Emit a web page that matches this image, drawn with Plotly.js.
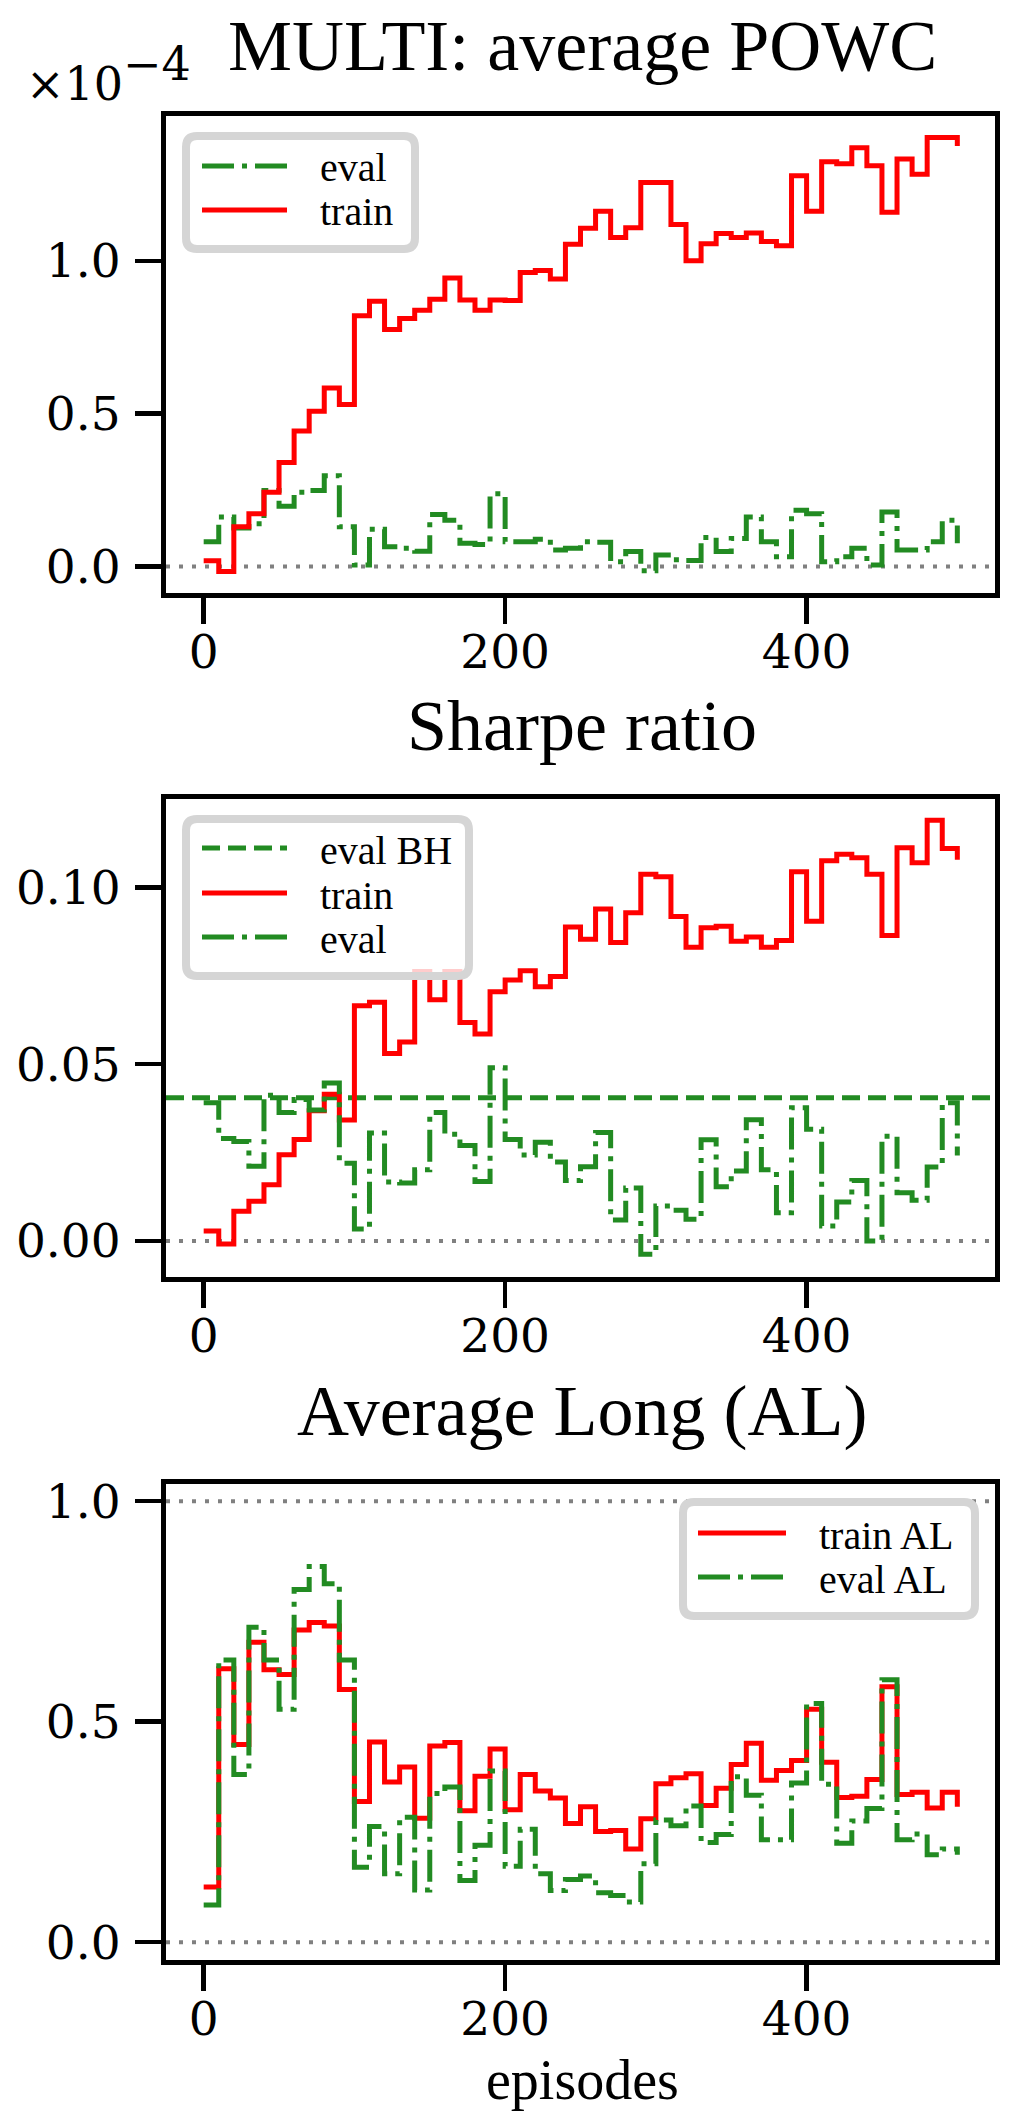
<!DOCTYPE html>
<html>
<head>
<meta charset="utf-8">
<script src="https://cdn.plot.ly/plotly-3.0.1.min.js"></script>
<style>
  html, body { margin: 0; padding: 0; background: #fff; }
  #chart { width: 1020px; height: 2118px; }
</style>
</head>
<body>
<div id="chart"></div>
<script>
// episodes (x of every step)
var episodes = [0, 10, 20, 30, 40, 50, 60, 70, 80, 90, 100, 110, 120, 130, 140, 150, 160, 170, 180, 190,
	200, 210, 220, 230, 240, 250, 260, 270, 280, 290, 300, 310, 320, 330, 340, 350, 360, 370, 380, 390,
	400, 410, 420, 430, 440, 450, 460, 470, 480, 490, 500];

// MULTI: average POWC, in units of 1e-4
var powc_train = [0.019, -0.016, 0.13, 0.173, 0.243, 0.34, 0.443, 0.508, 0.584, 0.53,
	0.82, 0.868, 0.775, 0.811, 0.838, 0.874, 0.944, 0.872, 0.838, 0.872,
	0.870, 0.962, 0.968, 0.94, 1.054, 1.106, 1.162, 1.076, 1.108, 1.256,
	1.256, 1.119, 1.0, 1.056, 1.089, 1.076, 1.091, 1.063, 1.049, 1.278,
	1.162, 1.324, 1.317, 1.37, 1.311, 1.159, 1.333, 1.283, 1.403, 1.403, 1.375];
var powc_eval = [0.081, 0.162, 0.126, 0.14, 0.249, 0.197, 0.243, 0.249, 0.297, 0.13,
	0.005, 0.122, 0.065, 0.06, 0.05, 0.17, 0.151, 0.076, 0.072, 0.238,
	0.081, 0.081, 0.089, 0.054, 0.06, 0.081, 0.079, 0.016, 0.049, -0.014,
	0.038, 0.022, 0.02, 0.095, 0.049, 0.092, 0.162, 0.081, 0.032, 0.184,
	0.173, 0.016, 0.032, 0.06, 0.005, 0.178, 0.054, 0.054, 0.081, 0.151, 0.076];

// Sharpe ratio
var sharpe_train = [0.0028, -0.0009, 0.0084, 0.0112, 0.0159, 0.0244, 0.0287, 0.0368, 0.0415, 0.0342,
	0.0665, 0.0675, 0.053, 0.0563, 0.0762, 0.0682, 0.0762, 0.0618, 0.0585, 0.0705,
	0.0738, 0.0764, 0.0719, 0.0748, 0.0888, 0.0853, 0.0939, 0.0844, 0.0928, 0.1037,
	0.103, 0.0918, 0.0831, 0.0886, 0.089, 0.0848, 0.086, 0.0831, 0.085, 0.1044,
	0.0904, 0.1075, 0.1094, 0.1084, 0.1037, 0.0864, 0.1112, 0.107, 0.119, 0.111, 0.1078];
var sharpe_eval = [0.0391, 0.029, 0.0281, 0.0211, 0.0412, 0.0363, 0.040, 0.037, 0.0447, 0.022,
	0.0034, 0.0305, 0.0167, 0.0164, 0.0201, 0.0363, 0.0302, 0.027, 0.0168, 0.049,
	0.0287, 0.0243, 0.0279, 0.0223, 0.0171, 0.021, 0.0307, 0.0059, 0.015, -0.0038,
	0.0099, 0.0087, 0.0061, 0.0286, 0.0153, 0.0198, 0.0343, 0.0201, 0.008, 0.0377,
	0.0316, 0.0042, 0.011, 0.0171, 0.0, 0.0296, 0.0136, 0.0115, 0.0209, 0.0391, 0.0242];
var sharpe_eval_bh = 0.0405;

// Average Long (AL)
var al_train = [0.125, 0.62, 0.448, 0.68, 0.618, 0.607, 0.708, 0.725, 0.717, 0.573,
	0.319, 0.454, 0.363, 0.397, 0.281, 0.445, 0.453, 0.298, 0.376, 0.438,
	0.30, 0.38, 0.343, 0.327, 0.269, 0.307, 0.251, 0.253, 0.211, 0.28,
	0.359, 0.373, 0.382, 0.31, 0.349, 0.403, 0.451, 0.367, 0.389, 0.412,
	0.528, 0.408, 0.328, 0.331, 0.369, 0.579, 0.335, 0.34, 0.304, 0.34, 0.307];
var al_eval = [0.084, 0.64, 0.38, 0.714, 0.64, 0.528, 0.80, 0.852, 0.813, 0.64,
	0.17, 0.262, 0.155, 0.283, 0.118, 0.337, 0.352, 0.14, 0.22, 0.388,
	0.172, 0.256, 0.155, 0.117, 0.142, 0.15, 0.112, 0.106, 0.091, 0.178,
	0.277, 0.264, 0.309, 0.226, 0.244, 0.375, 0.333, 0.232, 0.232, 0.361,
	0.541, 0.358, 0.224, 0.275, 0.303, 0.595, 0.232, 0.245, 0.198, 0.211, 0.198];

var x_ticks = [0, 200, 400];
var powc_ticks = [0, 0.5, 1.0];
var powc_tick_text = ['0.0', '0.5', '1.0'];
var sharpe_ticks = [0, 0.05, 0.10];
var sharpe_tick_text = ['0.00', '0.05', '0.10'];
var al_ticks = [0, 0.5, 1.0];
var al_tick_text = ['0.0', '0.5', '1.0'];

var titles = ['MULTI: average POWC', 'Sharpe ratio', 'Average Long (AL)'];

const W = 1020, H = 2118;
const RED = '#ff0000', GREEN = '#228b22', GREY = '#808080';
const SERIF = '"Liberation Serif", "DejaVu Serif", serif';
const NUM = '"DejaVu Serif", "Liberation Serif", serif';
const LW = 5;
const DASHDOT = '32px,8px,5px,8px';
const DASHED = '18px,8px';
const DOTTED = '4px,9px';

function px(x) { return x / W; }
function py(y) { return 1 - y / H; }

function step_trace(y, color, dash, xa, ya) {
	return {
		x: episodes, y: y, xaxis: xa, yaxis: ya,
		type: 'scatter', mode: 'lines',
		line: { shape: 'hv', color: color, width: LW, dash: dash },
		showlegend: false, hoverinfo: 'skip'
	};
}

var data = [
	step_trace(powc_eval, GREEN, DASHDOT, 'x', 'y'),
	step_trace(powc_train, RED, 'solid', 'x', 'y'),
	step_trace(sharpe_train, RED, 'solid', 'x2', 'y2'),
	step_trace(sharpe_eval, GREEN, DASHDOT, 'x2', 'y2'),
	step_trace(al_train, RED, 'solid', 'x3', 'y3'),
	step_trace(al_eval, GREEN, DASHDOT, 'x3', 'y3')
];

// plot areas in pixels (top, bottom)
var panels = [[116, 593], [799, 1277], [1484, 1960]];
var x_left = 166, x_right = 995;

function x_axis(anchor) {
	return {
		domain: [px(x_left), px(x_right)], anchor: anchor,
		range: [-25, 525], tickvals: x_ticks,
		ticks: 'outside', ticklen: 26, tickwidth: 4.5, tickcolor: '#000',
		ticklabelstandoff: -12,
		showline: true, linewidth: 5, linecolor: '#000', mirror: true,
		showgrid: false, zeroline: false,
		tickfont: { family: NUM, size: 47, color: '#000' }
	};
}
function y_axis(anchor, p, range, vals, text) {
	return {
		domain: [py(p[1]), py(p[0])], anchor: anchor,
		range: range, tickvals: vals, ticktext: text,
		ticks: 'outside', ticklen: 26, tickwidth: 4.5, tickcolor: '#000',
		ticklabelstandoff: 5,
		showline: true, linewidth: 5, linecolor: '#000', mirror: true,
		showgrid: false, zeroline: false,
		tickfont: { family: NUM, size: 47, color: '#000' }
	};
}

var shapes = [];
function hline(yref, xref, y, color, dash, width) {
	shapes.push({
		type: 'line', xref: xref + ' domain', yref: yref, x0: 0, x1: 1, y0: y, y1: y,
		layer: 'below', line: { color: color, width: width, dash: dash }
	});
}
hline('y', 'x', 0, GREY, DOTTED, 4);
hline('y2', 'x2', 0, GREY, DOTTED, 4);
hline('y2', 'x2', sharpe_eval_bh, GREEN, DASHED, LW);
hline('y3', 'x3', 0, GREY, DOTTED, 4);
hline('y3', 'x3', 1, GREY, DOTTED, 4);

// legend boxes drawn like matplotlib's rounded frames
function round_box(x0, y0, x1, y1, r) {
	var p = 'M' + px(x0 + r) + ',' + py(y0) +
		' L' + px(x1 - r) + ',' + py(y0) +
		' Q' + px(x1) + ',' + py(y0) + ' ' + px(x1) + ',' + py(y0 + r) +
		' L' + px(x1) + ',' + py(y1 - r) +
		' Q' + px(x1) + ',' + py(y1) + ' ' + px(x1 - r) + ',' + py(y1) +
		' L' + px(x0 + r) + ',' + py(y1) +
		' Q' + px(x0) + ',' + py(y1) + ' ' + px(x0) + ',' + py(y1 - r) +
		' L' + px(x0) + ',' + py(y0 + r) +
		' Q' + px(x0) + ',' + py(y0) + ' ' + px(x0 + r) + ',' + py(y0) + ' Z';
	shapes.push({
		type: 'path', xref: 'paper', yref: 'paper', path: p, layer: 'above',
		fillcolor: 'rgba(255,255,255,0.8)', line: { color: '#d5d5d5', width: 8 }
	});
}

var annotations = [];
function legend(box, x0, x1, tx, rows) {
	round_box(box[0], box[1], box[2], box[3], 11);
	rows.forEach(function (r) {
		shapes.push({
			type: 'line', xref: 'paper', yref: 'paper', layer: 'above',
			x0: px(x0), x1: px(x1), y0: py(r.y), y1: py(r.y),
			line: { color: r.color, width: LW, dash: r.dash }
		});
		annotations.push({
			xref: 'paper', yref: 'paper', x: px(tx), y: py(r.y + 2),
			xanchor: 'left', yanchor: 'middle', showarrow: false,
			text: r.label, font: { family: SERIF, size: 40, color: '#000' }
		});
	});
}
legend([186, 136, 415, 249], 202, 287, 318, [
	{ y: 166, label: 'eval', color: GREEN, dash: DASHDOT },
	{ y: 210, label: 'train', color: RED, dash: 'solid' }
]);
legend([186, 819, 469, 976], 202, 287, 318, [
	{ y: 848, label: 'eval BH', color: GREEN, dash: DASHED },
	{ y: 893, label: 'train', color: RED, dash: 'solid' },
	{ y: 937, label: 'eval', color: GREEN, dash: DASHDOT }
]);
legend([683, 1502, 975, 1616], 698, 786, 817, [
	{ y: 1533, label: 'train AL', color: RED, dash: 'solid' },
	{ y: 1577, label: 'eval AL', color: GREEN, dash: DASHDOT }
]);

function text_at(x, y, s, family, size, anchor) {
	annotations.push({
		xref: 'paper', yref: 'paper', x: px(x), y: py(y),
		xanchor: anchor, yanchor: 'middle', showarrow: false,
		text: s, font: { family: family, size: size, color: '#000' }
	});
}
text_at(582, 46, titles[0], SERIF, 72, 'center');
text_at(582, 726, titles[1], SERIF, 72, 'center');
text_at(582, 1411, titles[2], SERIF, 72, 'center');
text_at(24, 84, '\u00d710', NUM, 46, 'left');
text_at(121, 64, '\u22124', NUM, 46, 'left');
text_at(582, 2080, 'episodes', SERIF, 56, 'center');

var layout = {
	width: W, height: H,
	margin: { l: 0, r: 0, t: 0, b: 0 },
	paper_bgcolor: '#fff', plot_bgcolor: '#fff',
	showlegend: false,
	xaxis: x_axis('y'),
	yaxis: y_axis('x', panels[0], [-0.0866, 1.4735], powc_ticks, powc_tick_text),
	xaxis2: x_axis('y2'),
	yaxis2: y_axis('x2', panels[1], [-0.0102, 0.125], sharpe_ticks, sharpe_tick_text),
	xaxis3: x_axis('y3'),
	yaxis3: y_axis('x3', panels[2], [-0.0405, 1.039], al_ticks, al_tick_text),
	shapes: shapes,
	annotations: annotations
};

Plotly.newPlot('chart', data, layout, { staticPlot: true, displayModeBar: false });
</script>
</body>
</html>
